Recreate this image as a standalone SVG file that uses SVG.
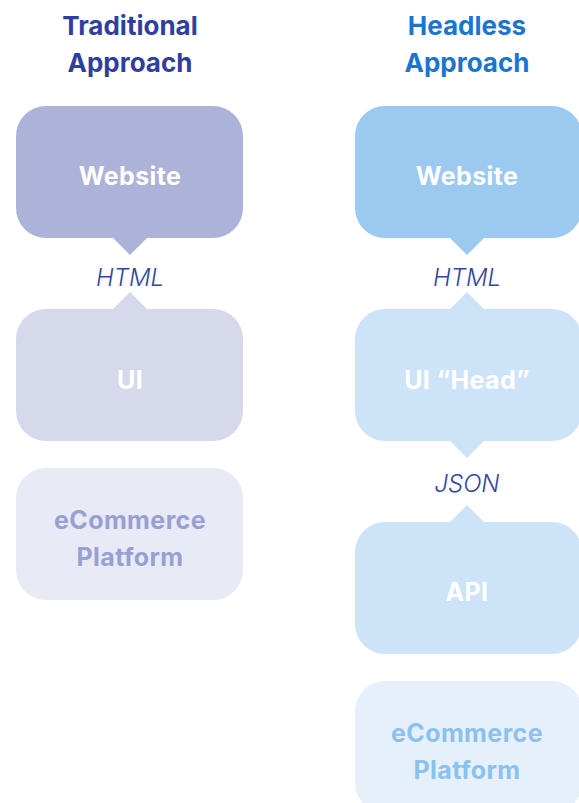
<svg xmlns="http://www.w3.org/2000/svg" width="579" height="803" viewBox="0 0 579 803">
<style>
.title{font-family:Inter,"Liberation Sans",sans-serif;font-weight:700;font-size:26px;text-anchor:middle}
.lbl{font-family:Inter,"Liberation Sans",sans-serif;font-weight:700;font-size:25px;letter-spacing:0.4px;text-anchor:middle}
.conn{font-family:Inter,"Liberation Sans",sans-serif;font-style:italic;font-weight:300;font-size:24px;text-anchor:middle;fill:#3444a2}
</style>
<rect width="579" height="803" fill="#ffffff"/>
<text class="title" x="130" y="35" fill="#2f3f9f">Traditional</text>
<text class="title" x="130" y="72" fill="#2f3f9f">Approach</text>
<text class="title" x="467" y="35" fill="#1a75d2">Headless</text>
<text class="title" x="467" y="72" fill="#1a75d2">Approach</text>

<g id="t-website">
<rect x="16" y="106" width="227" height="132" rx="30" fill="#adb3d8"/>
<path d="M113 238 L147 238 L130 255 Z" fill="#adb3d8"/>
<text class="lbl" x="130" y="185" fill="#ffffff">Website</text>
</g>
<g id="t-ui">
<rect x="16" y="309" width="227" height="132" rx="30" fill="#d6d9ec"/>
<path d="M113 309 L147 309 L130 292 Z" fill="#d6d9ec"/>
<text class="lbl" x="130" y="389" fill="#ffffff">UI</text>
</g>
<g id="t-ecom">
<rect x="16" y="468" width="227" height="132" rx="30" fill="#e8eaf5"/>
<text class="lbl" x="130" y="529" fill="#98a0d3">eCommerce</text>
<text class="lbl" x="130" y="566" fill="#98a0d3">Platform</text>
</g>

<g id="h-website">
<rect x="355" y="106" width="227" height="132" rx="30" fill="#9bc9ef"/>
<path d="M450 238 L484 238 L467 255 Z" fill="#9bc9ef"/>
<text class="lbl" x="467" y="185" fill="#ffffff">Website</text>
</g>
<g id="h-ui">
<rect x="355" y="309" width="227" height="132" rx="30" fill="#cde3f7"/>
<path d="M450 309 L484 309 L467 292 Z" fill="#cde3f7"/>
<path d="M450 441 L484 441 L467 458 Z" fill="#cde3f7"/>
<text class="lbl" x="467" y="389" fill="#ffffff">UI “Head”</text>
</g>
<g id="h-api">
<rect x="355" y="522" width="227" height="132" rx="30" fill="#cde3f7"/>
<path d="M450 522 L484 522 L467 505 Z" fill="#cde3f7"/>
<text class="lbl" x="467" y="601" fill="#ffffff">API</text>
</g>
<g id="h-ecom">
<rect x="355" y="681" width="227" height="132" rx="30" fill="#e5f0fb"/>
<text class="lbl" x="467" y="742" fill="#8ac1ee">eCommerce</text>
<text class="lbl" x="467" y="779" fill="#8ac1ee">Platform</text>
</g>

<g id="connectors">
<text class="conn" x="130" y="286">HTML</text>
<text class="conn" x="467" y="286">HTML</text>
<text class="conn" x="467" y="492">JSON</text>
</g>
</svg>
